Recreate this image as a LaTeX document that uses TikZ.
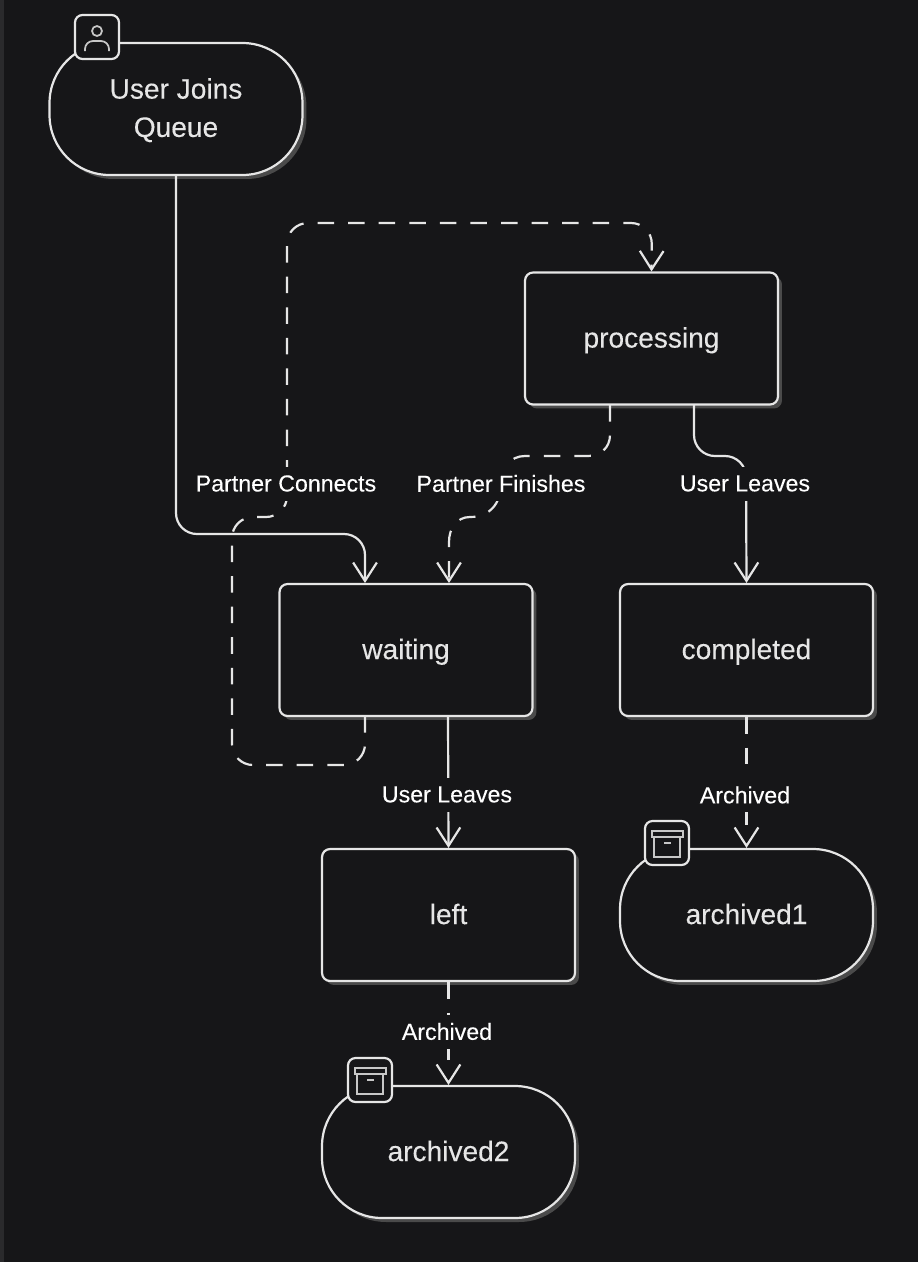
\documentclass[tikz,border=0pt]{standalone}
\usepackage{fontspec}
\setmainfont{Liberation Sans}[FakeBold=0.2]
\usetikzlibrary{arrows.meta,shadows}
\definecolor{canvas}{HTML}{161618}
\definecolor{strip}{HTML}{2A2A2C}
\definecolor{ink}{HTML}{E6E6E6}
\definecolor{shade}{HTML}{4A4A4A}
\begin{document}
\begin{tikzpicture}[x=0.02cm, y=-0.02cm, every node/.style={font=\fontsize{16}{20}\selectfont, text=ink}, >={Straight Barb[length=10.5pt, width=13.5pt]},
	statebox/.style={draw=ink, line width=1.25pt, fill=canvas, minimum width=5.06cm, minimum height=2.64cm, inner sep=0pt, align=center, general shadow={fill=shade, shadow xshift=0.08cm, shadow yshift=-0.08cm}},
	plainbox/.style={statebox, rounded corners=0.16cm, text height=12pt, text depth=1.7pt},
	pillbox/.style={statebox, rounded corners=1.2cm},
	wordpill/.style={pillbox, text height=12pt, text depth=1.7pt},
	iconbox/.style={draw=ink, line width=1.25pt, fill=canvas, minimum size=0.88cm, inner sep=0pt, rounded corners=0.15cm},
	flow/.style={->, draw=ink, line width=1.25pt, rounded corners=0.42cm},
	dashflow/.style={flow, dash pattern=on 9.4pt off 8pt},
	dashthree/.style={flow, dash pattern=on 9.4pt off 8pt on 9.4pt off 8pt on 9.4pt off 30pt},
	dashfour/.style={flow, dash pattern=on 9.4pt off 8pt on 9.4pt off 8pt on 9.4pt off 8pt on 9.4pt off 30pt},
	edgelabel/.style={fill=canvas, text=white, inner xsep=1pt, inner ysep=0pt, minimum height=0.68cm, font=\fontsize{13.2}{15}\selectfont},
	glyph/.style={draw=ink!85!canvas, line width=1pt}]
	\useasboundingbox (0,0) rectangle (918,1262);
	\fill[canvas] (0,0) rectangle (918,1262);
	\fill[strip] (0,0) rectangle (4,1262);
	\node[pillbox] (userjoins) at (176,109) {\rule{0pt}{13pt}User Joins\\[1.8pt]Queue};
	\node[plainbox] (processing) at (651.5,338.5) {processing};
	\node[plainbox] (waiting) at (406,650) {waiting};
	\node[plainbox] (completed) at (746.5,650) {completed};
	\node[plainbox] (left) at (448.5,915) {left};
	\node[wordpill] (archivedA) at (746.5,915) {archived1};
	\node[wordpill] (archivedB) at (448.5,1152) {archived2};
	\coordinate (waitingA) at (365,583);
	\coordinate (waitingB) at (449,583);
	\coordinate (waitingC) at (365,716);
	\coordinate (procA) at (610,405);
	\coordinate (procB) at (694,405);
	\draw[flow] (userjoins.south) -- (176,534) -- (365,534) -- (waitingA);
	\draw[dashflow] (waitingC) -- (365,765) -- (232,765) -- (232,517) -- (287,517) -- (287,223) -- (652,223) -- (processing.north);
	\draw[dashflow, sharp corners] (procA) -- (610,435) .. controls (610,448) and (600,456) .. (588,456) -- (525,456) .. controls (510,456) and (501,468) .. (501,484) .. controls (501,503) and (490,517) .. (470,517) .. controls (457,517) and (449,528) .. (449,542) -- (waitingB);
	\draw[flow] (procB) -- (694,456) -- (746,456) -- (completed.north);
	\draw[flow] (448,716) -- (left.north);
	\draw[dashfour] (completed.south) -- (archivedA.north);
	\draw[dashthree] (left.south) -- (archivedB.north);
	\node[edgelabel] (lblconnects) at (286,483.5) {Partner Connects};
	\node[edgelabel] (lblfinishes) at (501,483.5) {Partner Finishes};
	\node[edgelabel] (lblleavesA) at (745,483.5) {User Leaves};
	\node[edgelabel] (lblleavesB) at (447,794.5) {User Leaves};
	\node[edgelabel] (lblarchivedA) at (745,795) {Archived};
	\node[edgelabel] (lblarchivedB) at (447,1031.5) {Archived};
	\node[iconbox] (iconuser) at (97,37) {};
	\draw[glyph] (97,31) circle (0.1cm);
	\draw[glyph, rounded corners=0.16cm] (85,51) -- (85,41) -- (109,41) -- (109,51);
	\node[iconbox] (iconarchA) at (667,843) {};
	\draw[glyph] (652,831) rectangle (683,837);
	\draw[glyph] (654,837) rectangle (680,857);
	\draw[glyph] (664,843) -- (671,843);
	\node[iconbox] (iconarchB) at (370,1080) {};
	\draw[glyph] (355,1068) rectangle (386,1074);
	\draw[glyph] (357,1074) rectangle (383,1094);
	\draw[glyph] (367,1080) -- (374,1080);
\end{tikzpicture}
\end{document}
